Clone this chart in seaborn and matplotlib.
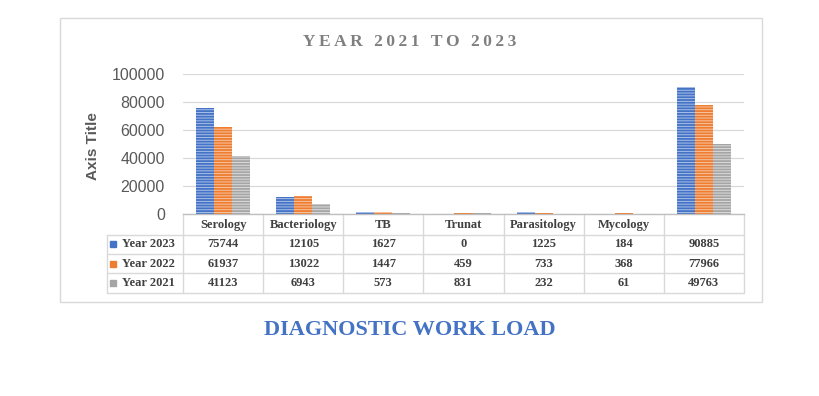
import seaborn as sns
import pandas as pd
import matplotlib.pyplot as plt
from matplotlib.patches import Rectangle

categories = ["Serology", "Bacteriology", "TB", "Trunat", "Parasitology", "Mycology", ""]
series_names = ["Year 2023", "Year 2022", "Year 2021"]
year_2023 = [75744, 12105, 1627, 0, 1225, 184, 90885]
year_2022 = [61937, 13022, 1447, 459, 733, 368, 77966]
year_2021 = [41123, 6943, 573, 831, 232, 61, 49763]
y_ticks = [0, 20000, 40000, 60000, 80000, 100000]

colors = ["#4472C4", "#ED7D31", "#A5A5A5"]
stripe_colors = ["#A9C0E8", "#F8C4A0", "#DCDCDC"]
grid_color = "#D9D9D9"
text_gray = "#404040"

sns.set_style("white")
plt.rcParams["hatch.linewidth"] = 0.7

series_values = [year_2023, year_2022, year_2021]
rows = []
for name, vals in zip(series_names, series_values):
    for cat, v in zip(categories, vals):
        rows.append({"category": cat, "series": name, "value": v})
df = pd.DataFrame(rows)

fig = plt.figure(figsize=(8.2, 3.96), dpi=100)
ax = fig.add_axes([183 / 820, 182 / 396, 561 / 820, 140 / 396])

sns.barplot(data=df, x="category", y="value", hue="series", order=categories,
            hue_order=series_names, palette=colors, width=0.675, saturation=1,
            legend=False, ax=ax)

for cont, sc in zip(ax.containers, stripe_colors):
    for bar in cont:
        bar.set_hatch("------")
        bar.set_edgecolor(sc)
        bar.set_linewidth(0)

ax.set_xlim(-0.5, len(categories) - 0.5)
ax.set_ylim(0, 100000)
ax.set_yticks(y_ticks)
ax.set_yticklabels([str(t) for t in y_ticks], fontsize=11.5,
                   family="Liberation Sans", color="#595959")
ax.tick_params(axis="y", length=0, pad=13)
ax.set_xticks([])
ax.set_xlabel("")
ax.set_ylabel("")
ax.yaxis.grid(True, color=grid_color, linewidth=0.9)
ax.set_axisbelow(True)
for side in ["left", "right", "top"]:
    ax.spines[side].set_visible(False)
ax.spines["bottom"].set_color("#BFBFBF")
ax.spines["bottom"].set_linewidth(1)

# data table under the axis
tr = ax.get_xaxis_transform()
def ay(ypx):
    return (214 - ypx) / 140.0

line_kw = dict(color=grid_color, linewidth=1, transform=tr, clip_on=False)
label_left = -1.45
for ypx in [235, 254, 273, 293]:
    ax.plot([label_left, len(categories) - 0.5], [ay(ypx), ay(ypx)], **line_kw)
ax.plot([label_left, label_left], [ay(235), ay(293)], **line_kw)
for k in range(len(categories) + 1):
    ax.plot([k - 0.5, k - 0.5], [ay(214), ay(293)], **line_kw)

cell_font = dict(family="Liberation Serif", fontweight="bold", fontsize=9,
                 color=text_gray, transform=tr, clip_on=False, va="center")
for k, cat in enumerate(categories):
    ax.text(k, ay(225), cat, ha="center", **cell_font)

row_y = [244, 264, 283]
for name, vals, c, ypx in zip(series_names, series_values, colors, row_y):
    ax.plot([-1.373], [ay(ypx)], marker="s", markersize=4.5, color=c,
            transform=tr, clip_on=False, linestyle="none")
    ax.text(-1.265, ay(ypx), name, ha="left", **cell_font)
    for k, v in enumerate(vals):
        ax.text(k, ay(ypx), str(v), ha="center", **cell_font)

fig.text(93 / 820, (396 - 146) / 396, "Axis Title", rotation=90, ha="center",
         va="center", fontsize=11, fontweight="bold", family="Liberation Sans",
         color="#595959")

title = "\u2009 \u2009".join("\u2009".join(w) for w in "YEAR 2021 TO 2023".split())
fig.text(410 / 820, (396 - 42) / 396, title, ha="center", va="center",
         fontsize=12.5, fontweight="bold", family="Liberation Serif", color="#7F7F7F")

fig.patches.append(Rectangle((60 / 820, 94 / 396), 702 / 820, 284 / 396,
                             transform=fig.transFigure, fill=False,
                             edgecolor=grid_color, linewidth=1))

fig.text(410 / 820, (396 - 330) / 396, "DIAGNOSTIC WORK LOAD", ha="center",
         va="center", fontsize=16, fontweight="bold", family="Liberation Serif",
         color="#4472C4")

fig.savefig("out.png", dpi=100)
